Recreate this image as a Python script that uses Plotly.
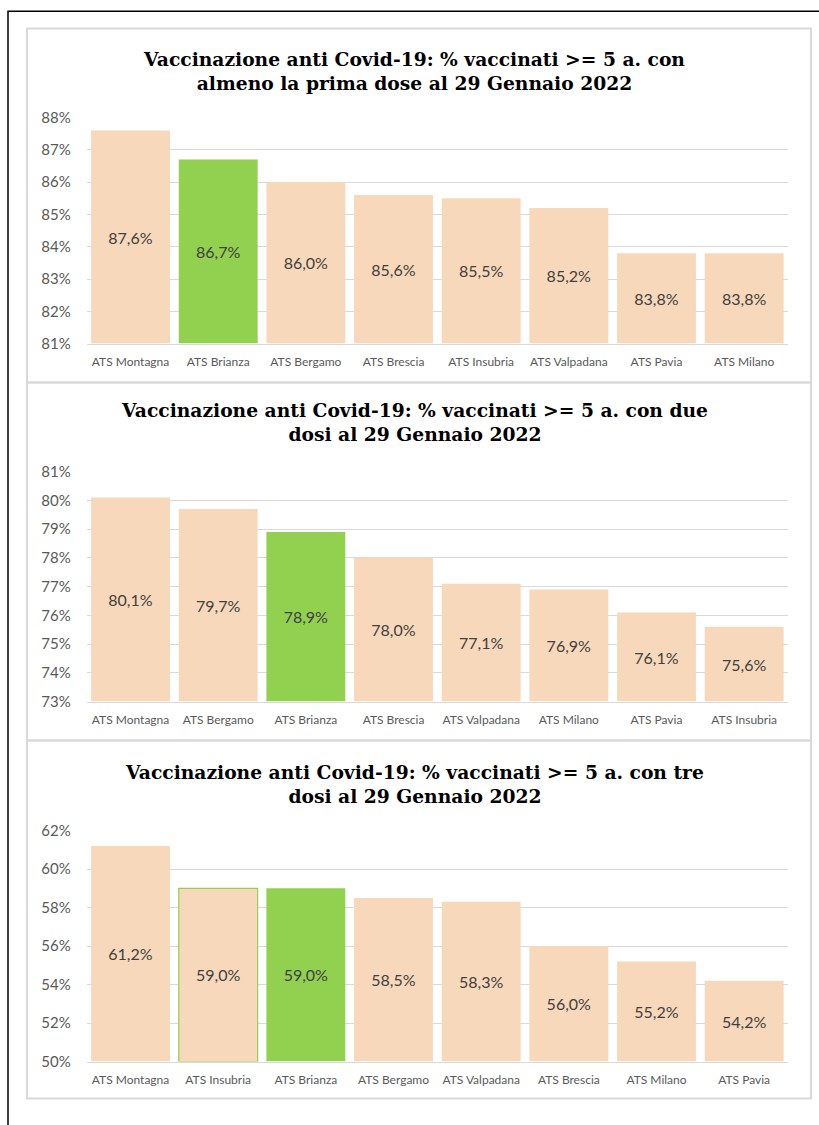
import plotly.graph_objects as go

W, H = 819, 1125

# Data
cat1 = ["ATS Montagna", "ATS Brianza", "ATS Bergamo", "ATS Brescia", "ATS Insubria",
        "ATS Valpadana", "ATS Pavia", "ATS Milano"]
val1 = [87.6, 86.7, 86.0, 85.6, 85.5, 85.2, 83.8, 83.8]

cat2 = ["ATS Montagna", "ATS Bergamo", "ATS Brianza", "ATS Brescia", "ATS Valpadana",
        "ATS Milano", "ATS Pavia", "ATS Insubria"]
val2 = [80.1, 79.7, 78.9, 78.0, 77.1, 76.9, 76.1, 75.6]

cat3 = ["ATS Montagna", "ATS Insubria", "ATS Brianza", "ATS Bergamo", "ATS Valpadana",
        "ATS Brescia", "ATS Milano", "ATS Pavia"]
val3 = [61.2, 59.0, 59.0, 58.5, 58.3, 56.0, 55.2, 54.2]

titles = [
    "Vaccinazione anti Covid-19: % vaccinati >= 5 a. con<br>almeno la prima dose al 29 Gennaio 2022",
    "Vaccinazione anti Covid-19: % vaccinati >= 5 a. con due<br>dosi al 29 Gennaio 2022",
    "Vaccinazione anti Covid-19: % vaccinati >= 5 a. con tre<br>dosi al 29 Gennaio 2022",
]
ranges = [(81, 88, 1), (73, 81, 1), (50, 62, 2)]

PEACH = "#F8D8BA"
GREEN = "#92D050"
GRID = "#D9D9D9"
FONT = "Lato, Open Sans, sans-serif"


def px(y):
    # screen pixel row -> paper fraction (calibrated against the capture)
    return 1 - ((y - 9.4) / 0.984) / H


# pixel geometry of plot areas (top, bottom) and panel boxes
plots = [(117, 343), (471, 701), (830, 1061)]
panels = [(28, 382), (382, 740), (740, 1098)]
title_y = [70, 421, 783]
x0, x1 = 86.7, 788

fig = go.Figure()
layout = dict(
    width=W, height=H, margin=dict(l=0, r=0, t=0, b=0),
    paper_bgcolor="white", plot_bgcolor="white",
    showlegend=False, separators=",.", bargap=0.1,
    font=dict(family=FONT, color="#595959"),
)

for i, (cats, vals) in enumerate([(cat1, val1), (cat2, val2), (cat3, val3)]):
    n = i + 1
    xa = "x" if n == 1 else f"x{n}"
    ya = "y" if n == 1 else f"y{n}"
    lo, hi, dt = ranges[i]
    top, bot = plots[i]
    colors = [GREEN if c == "ATS Brianza" else PEACH for c in cats]
    lcol = [GREEN if (n == 3 and c == "ATS Insubria") else "rgba(0,0,0,0)" for c in cats]
    lw = [1.2 if (n == 3 and c == "ATS Insubria") else 0 for c in cats]
    # bars start at the axis minimum so the centred label sits inside the visible part
    fig.add_trace(go.Bar(
        x=cats, y=[v - lo for v in vals], base=lo, customdata=vals,
        xaxis=xa, yaxis=ya,
        marker=dict(color=colors, line=dict(color=lcol, width=lw)),
        texttemplate="%{customdata:.1f}%", textposition="inside", insidetextanchor="middle",
        textfont=dict(size=16, color="#404040", family=FONT),
        textangle=0,
    ))
    layout["xaxis" if n == 1 else f"xaxis{n}"] = dict(
        domain=[x0 / W, x1 / W], anchor=ya, showgrid=False,
        showline=True, linecolor=GRID, linewidth=1,
        tickfont=dict(size=12, color="#595959"), ticks="",
        ticklabelstandoff=7, fixedrange=True,
    )
    layout["yaxis" if n == 1 else f"yaxis{n}"] = dict(
        domain=[px(bot), px(top)], anchor=xa, range=[lo, hi], dtick=dt, tick0=lo,
        ticksuffix="%", showgrid=True, gridcolor=GRID, gridwidth=1,
        zeroline=False, showline=False,
        tickfont=dict(size=15, color="#595959"), ticklabelstandoff=15,
    )

shapes = [dict(type="rect", xref="paper", yref="paper",
               x0=8 / W, x1=1.05, y0=-0.05, y1=1 - 1.2 / H,
               line=dict(color="black", width=1.5))]
for (t, b) in panels:
    shapes.append(dict(type="rect", xref="paper", yref="paper",
                       x0=27 / W, x1=811 / W, y0=px(b), y1=px(t),
                       line=dict(color=GRID, width=2)))
layout["shapes"] = shapes

layout["annotations"] = [
    dict(text=f"<b>{t}</b>", x=414 / W, y=px(ty), xref="paper", yref="paper",
         showarrow=False, xanchor="center", yanchor="middle",
         font=dict(family="DejaVu Serif, serif", size=18.7, color="black"))
    for t, ty in zip(titles, title_y)
]

fig.update_layout(**layout)

# pin the graph to the top-left corner of the page so it fills the window exactly
pin = (
    "var d=document.getElementById('{plot_id}');"
    "d.style.position='fixed';d.style.left='0px';d.style.top='0px';"
    "document.body.style.margin='0';"
    "document.documentElement.style.overflow='hidden';"
)
fig.write_html("out.html", config={"displayModeBar": False}, post_script=pin)
